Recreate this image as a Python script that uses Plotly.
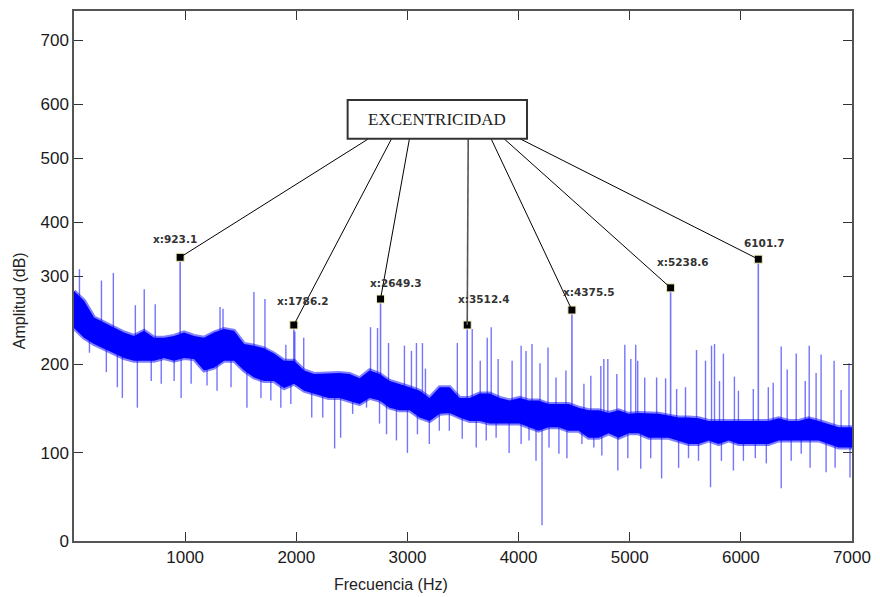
import numpy as np
import plotly.graph_objects as go

# ---------------- data ----------------
# Dense noise band of the spectrum: frequency (Hz), upper / lower level (dB)
BAND_FREQ = [0, 90, 180, 270, 360, 450, 540, 630, 720, 810, 900, 990, 1080, 1170, 1260,
             1350, 1440, 1530, 1620, 1710, 1800, 1890, 1980, 2070, 2160, 2290, 2390, 2480,
             2570, 2660, 2750, 2840, 2930, 3020, 3110, 3200, 3290, 3380, 3470, 3560, 3650,
             3740, 3830, 3920, 4010, 4090, 4180, 4270, 4360, 4450, 4540, 4630, 4720, 4810,
             4900, 4990, 5080, 5170, 5260, 5350, 5440, 5530, 5620, 5710, 5800, 5890, 5980,
             6070, 6160, 6250, 6340, 6430, 6520, 6610, 6700, 6790, 6880, 7000]
BAND_TOP = [283, 272, 253, 247, 241, 236, 232, 238, 230, 230, 232, 236, 232, 230, 236,
            240, 238, 223, 221, 218, 212, 204, 204, 193, 189, 190, 190, 189,
            184, 193, 189, 181, 178, 174, 170, 162, 174, 174, 162, 162, 167,
            167, 162, 159, 162, 159, 159, 155, 155, 155, 151, 148, 148, 145,
            148, 144, 145, 145, 144, 142, 140, 140, 139, 136, 136, 136, 136,
            136, 136, 136, 139, 136, 136, 139, 136, 133, 129, 129]
BAND_BOTTOM = [241, 230, 223, 218, 212, 207, 204, 204, 204, 207, 204, 207, 206, 193, 196,
               204, 204, 193, 185, 181, 181, 173, 178, 170, 167, 162, 162, 159,
               155, 162, 159, 151, 148, 148, 140, 136, 144, 145, 140, 136, 136,
               133, 133, 133, 133, 129, 125, 129, 129, 125, 125, 117, 117, 122,
               117, 122, 122, 117, 117, 117, 114, 110, 110, 114, 110, 114, 110,
               111, 110, 110, 114, 114, 114, 114, 114, 110, 106, 106]

# Upward spikes above the noise band
SPIKE_FREQ = [49, 247, 354, 552, 632, 731, 1314, 1341, 1619, 1718, 1906, 1987, 2067,
              2668, 2731, 2830, 2973, 3036, 3081, 3135, 3162, 3449, 3583, 3655, 3718,
              3754, 3816, 3942, 4023, 4067, 4121, 4193, 4265, 4337, 4426, 4588, 4650,
              4740, 4767, 4803, 4884, 4956, 5010, 5054, 5072, 5135, 5242, 5323, 5422,
              5502, 5601, 5682, 5736, 5763, 5808, 5843, 5942, 5978, 6112, 6247, 6291,
              6363, 6417, 6498, 6579, 6615, 6677, 6722, 6839, 6902, 6973]
SPIKE_DB = [313, 295, 306, 267, 285, 268, 265, 263, 282, 274, 222, 237, 230,
            242, 241, 224, 221, 215, 224, 224, 195, 224, 240, 204, 230,
            242, 206, 204, 221, 215, 223, 201, 219, 185, 193, 178, 187,
            198, 206, 206, 189, 222, 206, 222, 204, 185, 185, 184, 172,
            174, 216, 204, 221, 223, 181, 212, 186, 170, 172, 174, 179,
            220, 194, 212, 181, 221, 190, 211, 204, 171, 201]

# Downward dips below the noise band
DIP_FREQ = [67, 139, 291, 390, 435, 570, 695, 785, 901, 964, 1054, 1197, 1287, 1413,
            1556, 1682, 1771, 1861, 1951, 2139, 2238, 2345, 2399, 2507, 2632, 2749,
            2812, 2901, 3000, 3090, 3197, 3287, 3377, 3493, 3619, 3709, 3798, 3915,
            4023, 4094, 4157, 4211, 4274, 4363, 4435, 4570, 4677, 4749, 4893, 4983,
            5099, 5189, 5287, 5440, 5529, 5619, 5727, 5825, 5933, 6023, 6130, 6229,
            6363, 6453, 6543, 6623, 6767, 6848, 6982]
DIP_DB = [236, 213, 191, 174, 162, 151, 181, 178, 181, 162, 178, 176, 170, 174,
          151, 162, 159, 151, 155, 140, 140, 105, 117, 144, 151, 133,
          121, 114, 100, 121, 110, 125, 125, 116, 106, 114, 117, 100,
          110, 114, 91, 18, 106, 99, 94, 110, 106, 97, 80, 94,
          82, 94, 71, 83, 94, 91, 61, 91, 80, 91, 94, 88,
          60, 91, 99, 83, 78, 83, 72]

# Eccentricity harmonics (marked peaks)
PEAK_FREQ = [955, 1978, 2758, 3538, 4480, 5368, 6157]
PEAK_DB = [335, 244.5, 274, 244.5, 261.5, 286.7, 331.5]
PEAK_LABELS = ["x:923.1", "x:1786.2", "x:2649.3", "x:3512.4", "x:4375.5", "x:5238.6", "6101.7"]

X_TICKS = [1000, 2000, 3000, 4000, 5000, 6000, 7000]
Y_TICKS_DB = [0, 100, 200, 300, 400, 500, 600, 700]

# ---------------- the (non-uniform) amplitude scale of the original axis ----------------
Y_AXIS_POS = [0, 88.4, 177.4, 265.7, 319.7, 384, 438, 502.4]


def ys(v):
    return np.interp(v, Y_TICKS_DB, Y_AXIS_POS)


BLUE = "rgb(0,0,255)"
LIGHT = "rgba(30,30,255,0.62)"

fig = go.Figure()


def band_mid(f):
    return (np.interp(f, BAND_FREQ, BAND_TOP) + np.interp(f, BAND_FREQ, BAND_BOTTOM)) / 2


def stems(freqs, vals):
    xs, yv = [], []
    for f, v in zip(freqs, vals):
        xs += [f, f, None]
        yv += [ys(band_mid(f)), ys(v), None]
    return xs, yv


for fr, vv, w in [(DIP_FREQ, DIP_DB, 1.4), (SPIKE_FREQ, SPIKE_DB, 1.4), (PEAK_FREQ, PEAK_DB, 1.6)]:
    xs, yv = stems(fr, vv)
    fig.add_trace(go.Scatter(x=xs, y=yv, mode="lines", line=dict(color=LIGHT, width=w),
                             hoverinfo="skip", showlegend=False))

# noise band (soft ragged edge + dense core)
band_x = BAND_FREQ + BAND_FREQ[::-1]
band_y = list(ys(BAND_TOP)) + list(ys(BAND_BOTTOM))[::-1]
fig.add_trace(go.Scatter(x=band_x, y=band_y, mode="lines", fill="toself", fillcolor=BLUE,
                         line=dict(color="rgba(0,0,255,0.5)", width=4),
                         hoverinfo="skip", showlegend=False))

# connector lines from label box to peaks
BOX_X0, BOX_X1 = 2462, 4076
BOX_Y0, BOX_Y1 = 403.5, 442.5
START_FREQ = [2650, 2857, 3018, 3547, 3753, 3870, 4013]
for i, (sf, f, v) in enumerate(zip(START_FREQ, PEAK_FREQ, PEAK_DB)):
    fig.add_shape(type="line", x0=sf, y0=BOX_Y0, x1=f, y1=ys(v), xref="x", yref="y",
                  line=dict(color="#555555" if i == 3 else "black", width=1.6 if i == 3 else 1))

fig.add_shape(type="rect", x0=BOX_X0, x1=BOX_X1, y0=BOX_Y0, y1=BOX_Y1, xref="x", yref="y",
              line=dict(color="#333333", width=2), fillcolor="white", layer="above")
fig.add_annotation(x=(BOX_X0 + BOX_X1) / 2, y=(BOX_Y0 + BOX_Y1) / 2, xref="x", yref="y",
                   text="EXCENTRICIDAD", showarrow=False,
                   font=dict(family="Liberation Serif", size=17, color="#222222"))

# peak markers
fig.add_trace(go.Scatter(x=PEAK_FREQ, y=ys(PEAK_DB), mode="markers",
                         marker=dict(symbol="square", size=8, color="black",
                                     line=dict(color="#f3eebb", width=1)),
                         hoverinfo="skip", showlegend=False))

LABEL_DX = [-45, 80, 140, 150, 150, 115, 55]
LABEL_DY = [18, 24, 16, 26, 18, 26, 16]
for f, v, t, ddx, ddy in zip(PEAK_FREQ, PEAK_DB, PEAK_LABELS, LABEL_DX, LABEL_DY):
    fig.add_annotation(x=f + ddx, y=ys(v) + ddy, xref="x", yref="y", text=t, showarrow=False,
                       font=dict(family="DejaVu Sans", size=10.5, color="#333333", weight="bold"))

# axis titles
fig.add_annotation(x=-0.069, y=0.453, xref="paper", yref="paper", text="Amplitud (dB)",
                   textangle=-90, showarrow=False, xanchor="center", yanchor="middle",
                   font=dict(family="Liberation Sans", size=16, color="#222222"))
fig.add_annotation(x=0.4077, y=-0.083, xref="paper", yref="paper", text="Frecuencia (Hz)",
                   showarrow=False, xanchor="center", yanchor="middle",
                   font=dict(family="Liberation Sans", size=16, color="#222222"))

axis_common = dict(showgrid=False, zeroline=False, showline=True, linecolor="#555555",
                   linewidth=1.5, mirror="ticks", ticks="inside", ticklen=9, tickwidth=1,
                   tickcolor="#333333",
                   tickfont=dict(family="Liberation Sans", size=17, color="#1a1a1a"))

fig.update_layout(
    width=880, height=597,
    margin=dict(l=74, r=26, t=9, b=56),
    paper_bgcolor="white", plot_bgcolor="white",
    xaxis=dict(range=[0, 7000], tickvals=X_TICKS, ticktext=[str(t) for t in X_TICKS], **axis_common),
    yaxis=dict(range=[0, 531.7], tickvals=list(ys(Y_TICKS_DB)),
               ticktext=[str(t) for t in Y_TICKS_DB], **axis_common),
    showlegend=False,
)

fig.write_html("out.html", config={"displayModeBar": False},
               post_script="document.body.style.margin='0';")
